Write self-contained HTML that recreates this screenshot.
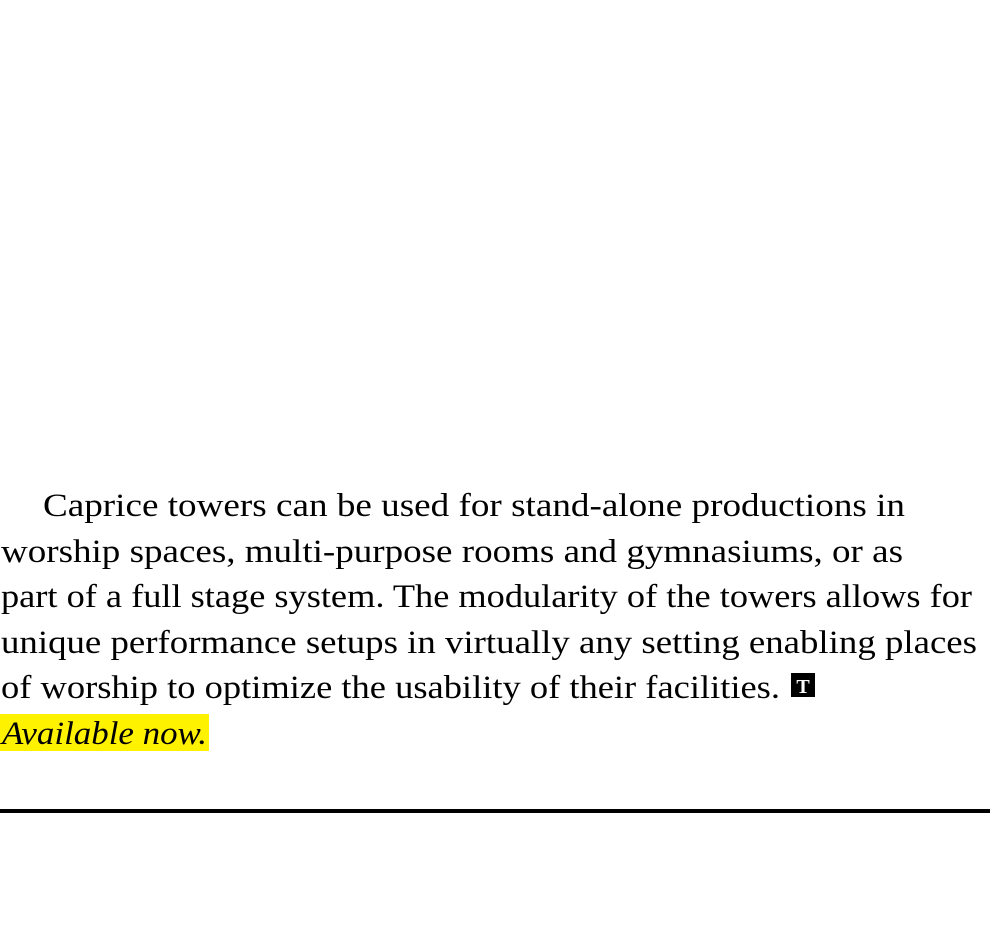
<!DOCTYPE html>
<html><head><meta charset="utf-8"><style>
html,body{margin:0;padding:0;background:#fff;width:990px;height:952px;overflow:hidden}
svg{display:block}
text{font-family:"Liberation Serif",serif;font-size:33px;fill:#000}
</style></head><body>
<svg width="990" height="952" viewBox="0 0 990 952">
<rect x="0" y="714" width="209" height="37" fill="#fff200"/>
<text x="43" y="516" textLength="862" lengthAdjust="spacingAndGlyphs">Caprice towers can be used for stand-alone productions in</text>
<text x="1" y="562" textLength="902" lengthAdjust="spacingAndGlyphs">worship spaces, multi-purpose rooms and gymnasiums, or as</text>
<text x="1" y="607" textLength="971" lengthAdjust="spacingAndGlyphs">part of a full stage system. The modularity of the towers allows for</text>
<text x="1" y="653" textLength="976" lengthAdjust="spacingAndGlyphs">unique performance setups in virtually any setting enabling places</text>
<text x="1" y="698" textLength="779" lengthAdjust="spacingAndGlyphs">of worship to optimize the usability of their facilities.</text>
<rect x="791" y="673" width="24" height="24" fill="#000"/>
<text x="803" y="693" text-anchor="middle" style="font-size:20px;font-weight:bold;fill:#fff">T</text>
<text x="2" y="744" textLength="205" lengthAdjust="spacingAndGlyphs" style="font-style:italic">Available now.</text>
<rect x="0" y="809" width="990" height="4" fill="#000"/>
</svg>
</body></html>
